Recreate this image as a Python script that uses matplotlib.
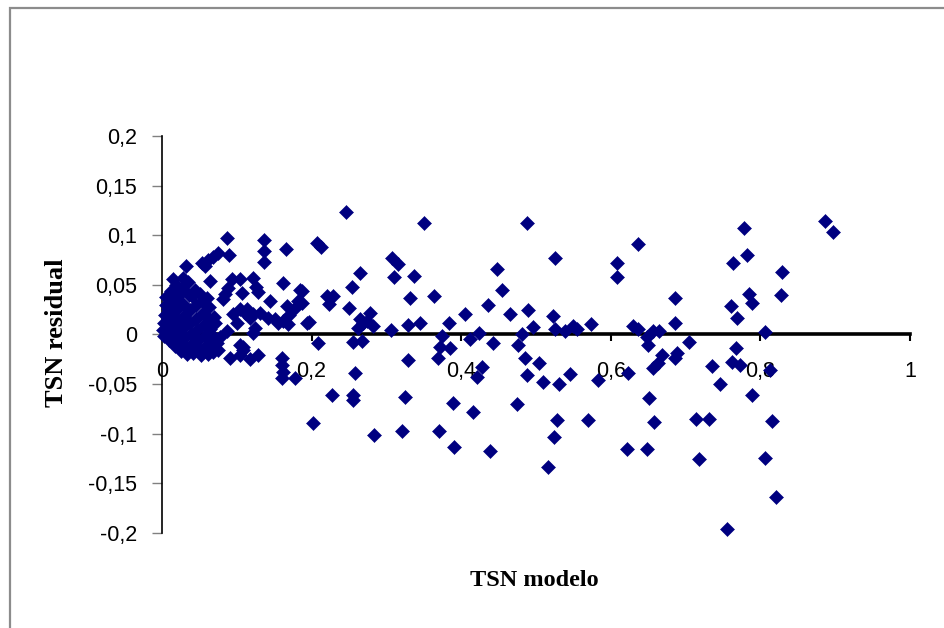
import matplotlib
matplotlib.use("Agg")
import matplotlib.pyplot as plt
from matplotlib.patches import Rectangle

# Valores del modelo (eje x) y residuos (eje y)
tsn_modelo = [
    # residuos altos
    0.246, 0.350, 0.488, 0.886, 0.897, 0.778, 0.636, 0.207, 0.213, 0.608,
    0.608, 0.763, 0.782, 0.829, 0.828, 0.785, 0.789, 0.686, 0.761, 0.769,
    0.686, 0.630, 0.637, 0.657, 0.665, 0.806, 0.525, 0.448, 0.455, 0.436,
    0.405, 0.465, 0.489, 0.496, 0.523, 0.525, 0.539, 0.549, 0.555, 0.573,
    0.424, 0.481, 0.265, 0.254, 0.307, 0.316, 0.310, 0.337, 0.332, 0.364,
    0.187, 0.187, 0.221, 0.229, 0.223, 0.250, 0.197, 0.265, 0.278, 0.274,
    0.282, 0.262, 0.269, 0.306, 0.329, 0.345, 0.384,
    # zona 0.05 - 0.2
    0.087, 0.136, 0.136, 0.136, 0.166, 0.090, 0.075, 0.068, 0.062, 0.053,
    0.058, 0.032, 0.028, 0.015, 0.064, 0.094, 0.104, 0.122, 0.162, 0.088,
    0.084, 0.082, 0.126, 0.128, 0.184, 0.144, 0.182, 0.051, 0.060, 0.026,
    0.040, 0.107, 0.167, 0.178, 0.170, 0.063, 0.071, 0.095, 0.104, 0.114,
    0.118, 0.100, 0.111, 0.122, 0.131, 0.124, 0.142, 0.151, 0.162, 0.155,
    0.168, 0.194, 0.087, 0.122,
    # nube cerca del origen
    0.002, 0.003, 0.004, 0.005, 0.003, 0.006, 0.008, 0.009, 0.007, 0.010,
    0.012, 0.013, 0.014, 0.015, 0.016, 0.017, 0.019, 0.020, 0.021, 0.022,
    0.023, 0.024, 0.025, 0.027, 0.028, 0.029, 0.030, 0.031, 0.032, 0.033,
    0.035, 0.036, 0.037, 0.038, 0.039, 0.040, 0.042, 0.044, 0.045, 0.046,
    0.047, 0.048, 0.050, 0.052, 0.054, 0.055, 0.056, 0.057, 0.059, 0.061,
    0.063, 0.064, 0.066, 0.068, 0.070, 0.071,
    # residuos negativos cerca de cero
    0.078, 0.073, 0.104, 0.108, 0.075, 0.091, 0.104, 0.108, 0.118, 0.128,
    0.160, 0.160, 0.162, 0.160, 0.178, 0.209, 0.255, 0.267, 0.374, 0.372,
    0.385, 0.329, 0.369, 0.258, 0.412, 0.442, 0.476, 0.485, 0.504, 0.428,
    0.421, 0.488, 0.509, 0.531, 0.545, 0.583, 0.648, 0.650, 0.705, 0.767,
    0.689, 0.668, 0.686, 0.663, 0.656, 0.735, 0.762, 0.773, 0.623, 0.813,
    # residuos bajos
    0.227, 0.255, 0.255, 0.202, 0.283, 0.325, 0.321, 0.389, 0.416, 0.370,
    0.390, 0.438, 0.475, 0.528, 0.524, 0.570, 0.516, 0.746, 0.651, 0.789,
    0.658, 0.714, 0.731, 0.815, 0.622, 0.648, 0.718, 0.806, 0.821, 0.755,
]

tsn_residual = [
    0.123, 0.112, 0.112, 0.114, 0.103, 0.107, 0.091, 0.092, 0.088, 0.072,
    0.058, 0.072, 0.080, 0.063, 0.040, 0.041, 0.032, 0.037, 0.029, 0.017,
    0.012, 0.009, 0.006, 0.004, 0.004, 0.003, 0.077, 0.066, 0.045, 0.030,
    0.021, 0.021, 0.025, 0.008, 0.019, 0.006, 0.004, 0.009, 0.006, 0.011,
    0.002, 0.001, 0.062, 0.048, 0.077, 0.071, 0.058, 0.059, 0.037, 0.039,
    0.044, 0.032, 0.039, 0.039, 0.031, 0.027, 0.013, 0.016, 0.022, 0.014,
    0.009, 0.007, 0.012, 0.005, 0.010, 0.012, 0.012,
    0.097, 0.095, 0.084, 0.073, 0.086, 0.080, 0.082, 0.078, 0.075, 0.072,
    0.069, 0.069, 0.057, 0.056, 0.054, 0.056, 0.056, 0.057, 0.052, 0.047,
    0.041, 0.036, 0.048, 0.043, 0.045, 0.034, 0.034, 0.041, 0.037, 0.044,
    0.039, 0.042, 0.029, 0.027, 0.020, 0.016, 0.012, 0.021, 0.026, 0.026,
    0.017, 0.012, 0.022, 0.021, 0.022, 0.007, 0.017, 0.016, 0.014, 0.012,
    0.011, 0.012, 0.004, 0.002,
    0.005, 0.012, 0.020, 0.030, -0.002, 0.038, 0.026, 0.015, 0.003, -0.006,
    0.044, 0.033, 0.021, 0.009, -0.002, -0.012, 0.050, 0.038, 0.027, 0.014,
    0.004, -0.008, -0.017, 0.046, 0.031, 0.019, 0.008, -0.003, -0.013, -0.020,
    0.053, 0.040, 0.025, 0.012, 0.001, -0.010, -0.019, 0.045, 0.030, 0.016,
    0.005, -0.006, -0.015, -0.021, 0.034, 0.022, 0.010, -0.002, -0.012, -0.020,
    0.028, 0.006, -0.008, -0.018, 0.018, -0.004,
    -0.003, -0.009, -0.011, -0.016, -0.016, -0.024, -0.021, -0.013, -0.025, -0.021,
    -0.024, -0.031, -0.038, -0.044, -0.044, -0.009, -0.008, -0.007, -0.002, -0.013,
    -0.014, -0.026, -0.024, -0.039, -0.005, -0.009, -0.011, -0.024, -0.029, -0.033,
    -0.043, -0.041, -0.048, -0.050, -0.040, -0.046, -0.003, -0.011, -0.008, -0.014,
    -0.019, -0.021, -0.024, -0.029, -0.034, -0.032, -0.028, -0.031, -0.039, -0.036,
    -0.061, -0.061, -0.066, -0.089, -0.101, -0.063, -0.097, -0.069, -0.078, -0.097,
    -0.113, -0.117, -0.070, -0.086, -0.103, -0.086, -0.134, -0.050, -0.064, -0.061,
    -0.088, -0.085, -0.085, -0.087, -0.115, -0.115, -0.125, -0.124, -0.164, -0.196,
]

x_ticks = [0, 0.2, 0.4, 0.6, 0.8, 1]
x_labels = ["0", "0,2", "0,4", "0,6", "0,8", "1"]
y_ticks = [0.2, 0.15, 0.1, 0.05, 0, -0.05, -0.1, -0.15, -0.2]
y_labels = ["0,2", "0,15", "0,1", "0,05", "0", "-0,05", "-0,1", "-0,15", "-0,2"]

fig = plt.figure(figsize=(9.45, 6.28), dpi=100)
ax = fig.add_axes([162 / 945, 1 - 533 / 628, 748 / 945, 397 / 628])

# puntos en rombo azul marino
ax.plot(tsn_modelo, tsn_residual, "D", ms=7.2, color="#000080",
        mec="#000080", mew=0.4, zorder=3, clip_on=False)

ax.set_xlim(0, 1)
ax.set_ylim(-0.2, 0.2)

# eje x cruzando en y = 0
ax.spines["top"].set_visible(False)
ax.spines["right"].set_visible(False)
ax.spines["bottom"].set_position(("data", 0))
ax.spines["bottom"].set_linewidth(2.6)
ax.spines["left"].set_linewidth(1.2)

ax.set_xticks(x_ticks)
ax.set_xticklabels(x_labels)
ax.set_yticks(y_ticks)
ax.set_yticklabels(y_labels)

ax.tick_params(axis="x", direction="out", length=5, width=1.5, pad=14,
               labelsize=15.5, colors="black")
ax.tick_params(axis="y", direction="out", length=7, width=1, pad=11,
               labelsize=15.5, color="#808080", labelcolor="black")
for lab in ax.get_xticklabels() + ax.get_yticklabels():
    lab.set_family("Liberation Sans")

fig.text(57 / 945, 1 - 333 / 628, "TSN residual", rotation=90,
         ha="center", va="center", fontsize=19, fontweight="bold",
         family="Liberation Serif")
fig.text(534 / 945, 1 - 580 / 628, "TSN modelo", ha="center", va="center",
         fontsize=17.5, fontweight="bold", family="Liberation Serif")

# marco gris del gráfico
fig.patches.append(Rectangle((10 / 945, -0.1), 1.2, 1 - 8 / 628 + 0.1,
                             transform=fig.transFigure, fill=False,
                             edgecolor="#8c8c8c", linewidth=1.6))

fig.savefig("out.png", dpi=100)
